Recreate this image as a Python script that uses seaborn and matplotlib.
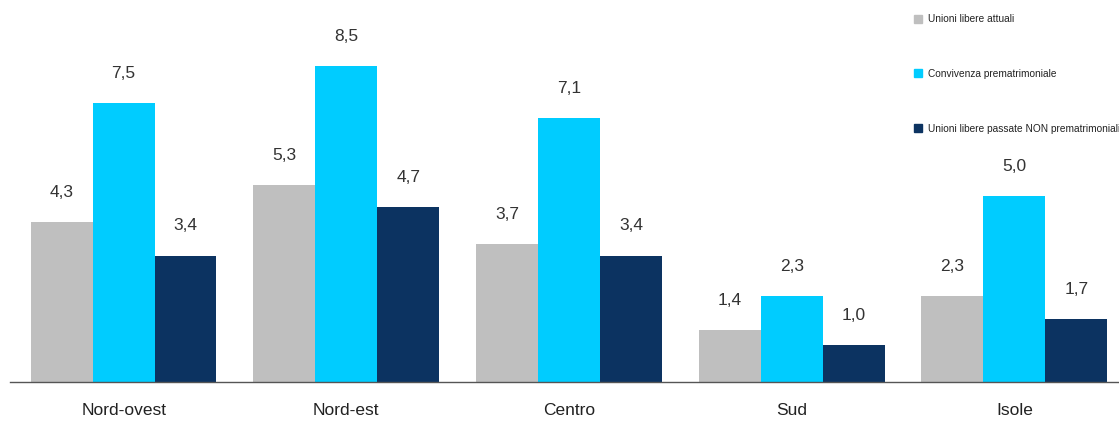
import matplotlib
matplotlib.use("Agg")
import matplotlib.pyplot as plt
from matplotlib.lines import Line2D
import seaborn as sns
import pandas as pd

categories = ["Nord-ovest", "Nord-est", "Centro", "Sud", "Isole"]
series_names = ["Unioni libere attuali", "Convivenza prematrimoniale",
                "Unioni libere passate NON prematrimoniali"]
unioni_attuali = [4.3, 5.3, 3.7, 1.4, 2.3]
convivenza = [7.5, 8.5, 7.1, 2.3, 5.0]
unioni_passate = [3.4, 4.7, 3.4, 1.0, 1.7]
colors = ["#BFBFBF", "#00CCFF", "#0C3361"]

sns.set_theme(style="white")
plt.rcParams["font.family"] = ["Liberation Sans", "DejaVu Sans"]

rows = []
for name, vals in zip(series_names, [unioni_attuali, convivenza, unioni_passate]):
    for c, v in zip(categories, vals):
        rows.append({"Area": c, "Serie": name, "Valore": v})
df = pd.DataFrame(rows)

fig = plt.figure(figsize=(11.19, 4.21), dpi=100)
ax = fig.add_axes([0.009, 0.0926, 0.991, 0.9074])
sns.barplot(data=df, x="Area", y="Valore", hue="Serie", order=categories,
            hue_order=series_names, palette=colors, width=0.834,
            saturation=1, ax=ax, legend=False, errorbar=None, linewidth=0)

for cont in ax.containers:
    labels = [f"{b.get_height():.1f}".replace(".", ",") for b in cont]
    ax.bar_label(cont, labels=labels, padding=16, fontsize=12.5, color="#333333")

ax.set_xlim(-0.51, 4.47)
ax.set_ylim(0, 10.27)
ax.set_xlabel("")
ax.set_ylabel("")
ax.set_yticks([])
for s in ["top", "right", "left"]:
    ax.spines[s].set_visible(False)
ax.spines["bottom"].set_color("#555555")
ax.spines["bottom"].set_linewidth(1.0)
ax.tick_params(axis="x", length=0, pad=15, labelsize=12.5, labelcolor="#222222")

handles = [Line2D([0], [0], marker="s", linestyle="", markersize=6,
                  markerfacecolor=c, markeredgecolor=c) for c in colors]
fig.legend(handles, series_names, loc="upper left",
           bbox_to_anchor=(0.818, 0.966), frameon=False, fontsize=7.3,
           handlelength=0.6, handletextpad=0.6, labelspacing=4.4,
           borderpad=0, borderaxespad=0, labelcolor="#222222")

fig.savefig("out.png", dpi=100)
